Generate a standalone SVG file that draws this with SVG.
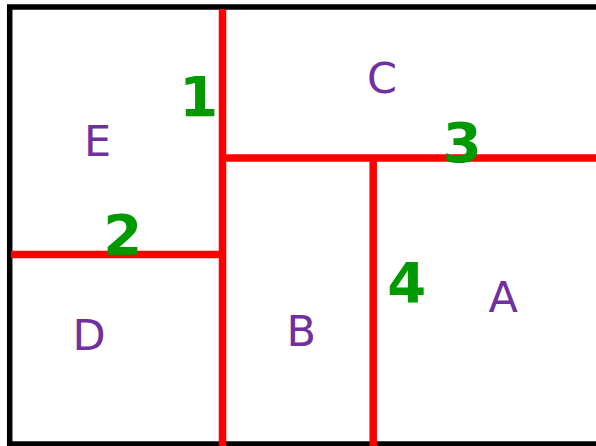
<svg xmlns="http://www.w3.org/2000/svg" width="596" height="446" viewBox="0 0 596 446">
<style>
.border{fill:none;stroke:#000;stroke-width:5.5}
.cut{stroke:#ff0000;stroke-width:7.5;fill:none}
.lbl{font-family:"DejaVu Sans",Verdana,sans-serif;font-size:43px;fill:#7030a0}
.num{font-family:"DejaVu Sans",Verdana,sans-serif;font-size:56px;font-weight:bold;fill:#009900;text-anchor:middle}
</style>
<rect x="0" y="0" width="596" height="446" fill="#fff"/>
<g id="frame"><rect class="border" x="9.7" y="7" width="600" height="437"/></g>
<g id="connectors">
<line class="cut" x1="222.5" y1="9" x2="222.5" y2="446"/>
<line class="cut" x1="222.5" y1="158" x2="596" y2="158"/>
<line class="cut" x1="373.2" y1="158" x2="373.2" y2="446"/>
<line class="cut" x1="11" y1="254.5" x2="222.5" y2="254.5"/>
</g>
<g id="E"><text class="lbl" x="84" y="155.5">E</text></g>
<g id="C"><text class="lbl" x="367" y="92.5">C</text></g>
<g id="D"><text class="lbl" x="72.5" y="350">D</text></g>
<g id="B"><text class="lbl" x="286.5" y="346">B</text></g>
<g id="A"><text class="lbl" x="488.5" y="312">A</text></g>
<g id="n1"><text class="num" x="198.7" y="116">1</text></g>
<g id="n2"><text class="num" x="122.7" y="254">2</text></g>
<g id="n3"><text class="num" x="462.3" y="162">3</text></g>
<g id="n4"><text class="num" x="406.8" y="302">4</text></g>
</svg>
